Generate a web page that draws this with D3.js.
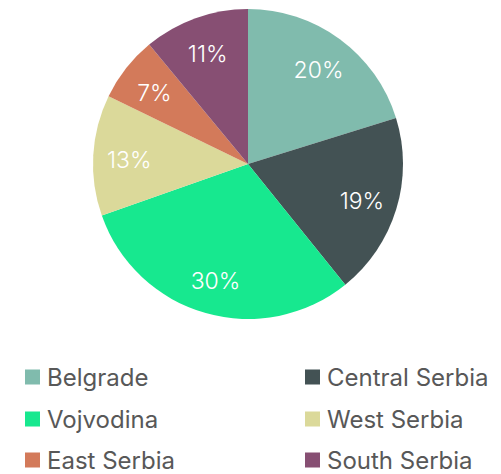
<!DOCTYPE html>
<html><head><meta charset="utf-8">
<script src="https://cdn.jsdelivr.net/npm/d3@7"></script>
<style>body{margin:0;background:#fff;}svg{display:block;}</style>
</head><body>
<svg id="chart" width="501" height="474"></svg>
<script>
const categories = ["Belgrade","Central Serbia","Vojvodina","West Serbia","East Serbia","South Serbia"];
const values = [20.2,19.0,30.4,12.6,6.8,11.0];
const colors = ["#80bbad","#435254","#17e88f","#dbd99a","#d37a5a","#874f73"];

const svg = d3.select("#chart");
const cx = 248, cy = 164, r = 155;
const data = categories.map((c,i)=>({name:c,value:values[i],color:colors[i]}));
const pie = d3.pie().sort(null).value(d=>d.value);
const arc = d3.arc().innerRadius(0).outerRadius(r);
const labelArc = d3.arc().innerRadius(119).outerRadius(119);
const g = svg.append("g").attr("transform",`translate(${cx},${cy})`);
const arcs = pie(data);
g.selectAll("path").data(arcs).join("path").attr("d",arc).attr("fill",d=>d.data.color);
const total = d3.sum(values);
g.selectAll("text").data(arcs).join("text")
  .attr("transform",d=>{const c=labelArc.centroid(d);return `translate(${c[0]},${c[1]+2})`;})
  .attr("text-anchor","middle").attr("dy","0.36em")
  .attr("fill","#fff").style("font-family","Inter").style("font-weight",300).style("font-size","23px")
  .text(d=>Math.round(d.data.value/total*100)+"%");

const legend = svg.append("g");
const colX = [25,305], rowY = [377,419,460];
const items = legend.selectAll("g").data(data).join("g")
  .attr("transform",(d,i)=>`translate(${colX[i%2]},${rowY[Math.floor(i/2)]})`);
items.append("rect").attr("x",0).attr("y",-7.5).attr("width",15).attr("height",15).attr("fill",d=>d.color);
items.append("text").attr("x",22).attr("y",0).attr("dy","0.36em")
  .attr("fill","#585858").style("font-family","Inter").style("font-size","24px").text(d=>d.name);
</script>
</body></html>
